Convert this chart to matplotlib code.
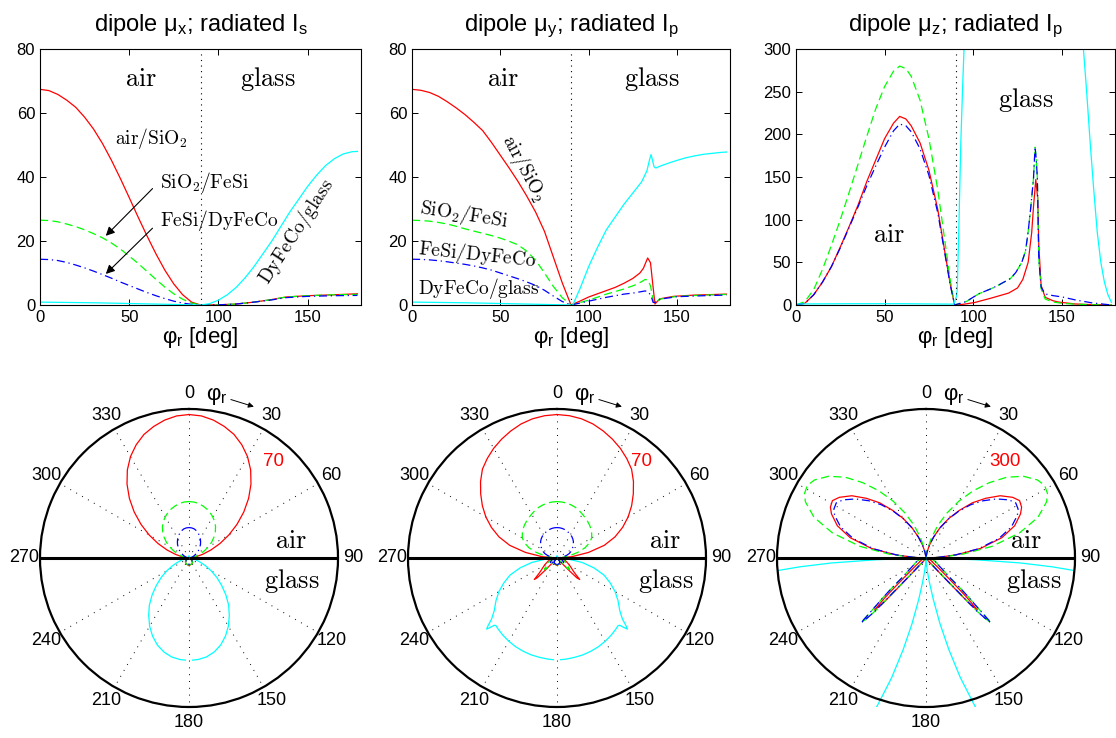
import numpy as np
import matplotlib
matplotlib.use("Agg")
import matplotlib.pyplot as plt
from matplotlib.patches import Rectangle

plt.rcParams['font.family'] = ['Liberation Sans', 'DejaVu Sans']
plt.rcParams['mathtext.fontset'] = 'cm'

# ---------------- data (phi_r in deg) ----------------
# dipole mu_x, radiated I_s
x_red_phi = [0, 5, 10, 15, 20, 25, 30, 35, 40, 45, 50, 55, 60, 65, 70, 75, 80, 85, 90,
             100, 110, 120, 130, 138, 150, 165, 178]
x_red_val = [67.4, 67.0, 65.8, 64.0, 61.8, 58.7, 55, 50.5, 45.3, 39.6, 33.6, 27.5, 21.6, 16, 10.9,
             6.6, 3.2, 0.9, 0,
             0.05, 0.3, 0.9, 1.7, 2.5, 2.9, 3.2, 3.5]
x_grn_phi = [0, 5, 10, 15, 20, 25, 30, 35, 40, 45, 50, 55, 60, 65, 70, 75, 80, 85, 90,
             100, 110, 120, 130, 138, 150, 165, 178]
x_grn_val = [26.5, 26.4, 26, 25.3, 24.5, 23.5, 22.3, 21, 19.4, 17.5, 15.3, 13, 10.5, 8, 5.6,
             3.5, 1.8, 0.6, 0,
             0.05, 0.3, 0.9, 1.7, 2.5, 2.9, 3.2, 3.3]
x_blu_phi = x_grn_phi
x_blu_val = [14.3, 14.2, 13.9, 13.3, 12.5, 11.6, 10.6, 9.5, 8.4, 7.2, 6.1, 5, 3.9, 2.9, 2,
             1.2, 0.6, 0.2, 0,
             0.05, 0.3, 0.9, 1.6, 2.3, 2.7, 2.9, 3.0]
x_cyn_phi = [0, 30, 60, 90, 95, 100, 105, 110, 115, 120, 125, 130, 135, 140, 145, 150,
             155, 160, 165, 170, 175, 178]
x_cyn_val = [0.9, 0.7, 0.35, 0, 0.4, 1.5, 3.2, 5.5, 8.5, 12, 16, 20, 24.5, 29, 33, 37,
             40.5, 43.5, 45.7, 47.2, 47.9, 48]

# dipole mu_y, radiated I_p
y_red_phi = [0, 5, 10, 15, 20, 25, 30, 35, 40, 45, 50, 55, 60, 65, 70, 75, 80, 85, 90,
             95, 100, 105, 110, 115, 120, 125, 129, 131, 133.4, 135, 136, 137, 137.5,
             139, 141, 148, 160, 178]
y_red_val = [67.4, 67.1, 66.4, 65.2, 63.5, 61.6, 59.5, 57.1, 54.5, 50.8, 46.8, 42.8, 38.6, 34,
             29, 23, 15, 7, 0,
             1.2, 2.5, 3.5, 4.5, 5.5, 6.8, 8.3, 10, 11.5, 14.7, 13.2, 8, 2.9, 0.3,
             1.2, 2, 2.7, 3.1, 3.4]
y_grn_phi = [0, 5, 10, 15, 20, 25, 30, 35, 40, 45, 50, 55, 60, 65, 70, 75, 80, 85, 90,
             100, 110, 120, 126, 130, 132, 133.5, 135, 136, 137, 138, 140, 150, 165, 178]
y_grn_val = [26.5, 26.4, 26.2, 25.8, 25.3, 24.6, 23.8, 23.1, 22.4, 21.7, 20.9, 19.9, 18.8, 16.8,
             14, 10, 5.8, 2.3, 0,
             1.5, 3.4, 5, 6.2, 7.3, 8, 7.8, 6, 3, 0.5, 0.8, 1.8, 2.7, 3.1, 3.3]
y_blu_phi = [0, 5, 10, 15, 20, 25, 30, 35, 40, 45, 50, 55, 60, 65, 70, 75, 80, 85, 90,
             100, 110, 120, 126, 130, 132, 134, 135.5, 136.5, 137.5, 140, 150, 165, 178]
y_blu_val = [14.3, 14.25, 14.1, 13.85, 13.5, 13.1, 12.7, 12.2, 11.6, 10.9, 10, 9.1, 8.2, 7.2,
             6.1, 4.6, 2.8, 1.1, 0,
             1.2, 2.4, 3.4, 3.8, 4.2, 4.4, 4, 2.5, 0.8, 0.8, 1.8, 2.6, 2.9, 3.1]
y_cyn_phi = [0, 30, 60, 90, 91, 95, 100, 105, 110, 115, 120, 125, 130, 133, 134.5, 135.3,
             136, 137, 138, 140, 145, 150, 155, 160, 165, 170, 175, 178]
y_cyn_val = [0.9, 0.7, 0.35, 0, 0, 5, 12, 18, 23.5, 27.5, 31.5, 35, 38.5, 42, 45.5, 47,
             45.5, 43.2, 42.8, 43.3, 44.3, 45.2, 46, 46.6, 47.1, 47.4, 47.7, 47.8]

# dipole mu_z, radiated I_p
z_red_phi = [0, 5, 10, 15, 20, 25, 30, 35, 40, 45, 50, 55, 58.5, 62, 65, 70, 75, 80, 84, 87, 89.5,
             95, 101, 110, 120, 125, 128, 131, 133, 134, 135.3, 136.4, 137, 138.3, 140.6,
             145, 148, 157.5, 167, 178]
z_red_val = [0, 2, 12, 27, 45, 68, 92, 117, 145, 170, 195, 213, 221, 218, 210, 190, 158, 112, 62, 25, 0,
             1, 3, 8, 14, 20, 30, 50, 85, 115, 147, 125, 70, 23, 9,
             5, 3.5, 1.2, 0.4, 0]
z_grn_phi = [0, 5, 10, 15, 20, 25, 30, 35, 40, 45, 50, 55, 58.5, 62, 65, 70, 75, 80, 84, 87, 89.5,
             96, 103, 110, 114, 121, 124, 127.4, 129.5, 131, 132.5, 134, 134.9, 135.6, 136.2,
             137, 138.3, 140.6, 145, 150, 157.5, 167, 178]
z_grn_val = [0, 4, 18, 42, 70, 100, 132, 165, 198, 230, 256, 274, 280, 277, 268, 240, 195, 135, 75, 30, 0,
             4, 13, 19, 23, 31, 38, 50, 63, 86, 115, 148, 185, 170, 148,
             54, 19, 7, 3.5, 2, 1, 0.3, 0]
z_blu_phi = z_grn_phi
z_blu_val = [0, 2, 12, 27, 45, 67, 91, 115, 140, 163, 185, 204, 212, 210, 203, 183, 152, 108, 60, 24, 0,
             4, 13, 19, 23, 31, 38, 50, 63, 86, 115, 148, 185, 170, 148,
             54, 21, 13, 11, 9.5, 6, 2.5, 0]
z_cyn_phi = [0, 30, 60, 89, 90.5, 91, 92, 93, 94, 95, 96, 100, 110, 130, 150, 158,
             160, 162, 164, 166, 168, 170, 172, 174, 176, 178]
z_cyn_val = [1.2, 1.5, 1.5, 1, 10, 18, 100, 190, 255, 310, 400, 800, 2000, 3000, 2000, 500,
             380, 305, 250, 190, 135, 85, 50, 27, 12, 3]

RED, GRN, BLU, CYN = '#ff0000', '#00ff00', '#0000ff', '#00ffff'
DASH = (0, (6.5, 3.5))
DASHDOT = (0, (6.5, 3, 1, 3))

panels = [
    dict(title=r'dipole $\mathregular{\mu_x}$; radiated $\mathregular{I_s}$',
         ymax=80, yticks=[0, 20, 40, 60, 80], rmax=70,
         curves=[(x_red_phi, x_red_val, RED, '-'), (x_grn_phi, x_grn_val, GRN, DASH),
                 (x_blu_phi, x_blu_val, BLU, DASHDOT), (x_cyn_phi, x_cyn_val, CYN, '-')],
         air=(56.6, 68.3), glass=(127.9, 68.3),
         pair=(0.841, 0.533), pglass=(0.846, 0.400), rlab=(41.3, 0.86)),
    dict(title=r'dipole $\mathregular{\mu_y}$; radiated $\mathregular{I_p}$',
         ymax=80, yticks=[0, 20, 40, 60, 80], rmax=70,
         curves=[(y_red_phi, y_red_val, RED, '-'), (y_grn_phi, y_grn_val, GRN, DASH),
                 (y_blu_phi, y_blu_val, BLU, DASHDOT), (y_cyn_phi, y_cyn_val, CYN, '-')],
         air=(51.3, 68.3), glass=(135.8, 68.3),
         pair=(0.861, 0.533), pglass=(0.866, 0.400), rlab=(41.3, 0.86)),
    dict(title=r'dipole $\mathregular{\mu_z}$; radiated $\mathregular{I_p}$',
         ymax=300, yticks=[0, 50, 100, 150, 200, 250, 300], rmax=300,
         curves=[(z_red_phi, z_red_val, RED, '-'), (z_grn_phi, z_grn_val, GRN, DASH),
                 (z_blu_phi, z_blu_val, BLU, DASHDOT), (z_cyn_phi, z_cyn_val, CYN, '-')],
         air=(52.6, 74), glass=(129.8, 232),
         pair=(0.836, 0.533), pglass=(0.862, 0.400), rlab=(39.3, 0.835)),
]

W, H = 1116, 738
fig = plt.figure(figsize=(W / 100, H / 100), dpi=100)


def frac(l, t, w, h):
    return [l / W, 1 - (t + h) / H, w / W, h / H]


top_boxes = [(40, 49, 321, 256), (412, 49, 318, 256), (796, 49, 319, 256)]
pol_boxes = [(40, 409, 298, 298), (408, 409, 298, 298), (777, 409, 298, 298)]
cm = lambda s: r'$\mathrm{' + s + '}$'

for i, p in enumerate(panels):
    # ---- cartesian plot
    ax = fig.add_axes(frac(*top_boxes[i]))
    for phi, val, col, ls in p['curves']:
        ax.plot(phi, val, color=col, ls=ls, lw=0.9)
    ax.axvline(90, color='k', ls=(0, (1, 4)), lw=0.8)
    ax.set_xlim(0, 180)
    ax.set_ylim(0, p['ymax'])
    ax.set_xticks([0, 50, 100, 150])
    ax.set_yticks(p['yticks'])
    ax.tick_params(direction='in', top=True, right=True, labelsize=12, length=4, width=0.7)
    for s in ax.spines.values():
        s.set_linewidth(0.8)
    ax.set_title(p['title'], fontsize=17, pad=13)
    ax.set_xlabel(r'$\mathregular{\varphi_r}$ [deg]', fontsize=16, labelpad=0)
    ax.text(*p['air'], cm('air'), fontsize=19, ha='center', va='baseline')
    ax.text(*p['glass'], cm('glass'), fontsize=19, ha='center', va='baseline')

    if i == 0:
        ax.text(62.5, 50.4, cm('air/SiO_2'), fontsize=14, ha='center', va='baseline')
        ax.text(67.4, 36.5, cm('SiO_2/FeSi'), fontsize=14, ha='left', va='baseline')
        ax.text(67.4, 24.6, cm('FeSi/DyFeCo'), fontsize=14, ha='left', va='baseline')
        ax.text(144, 23, cm('DyFeCo/glass'), fontsize=14, ha='center', va='center', rotation=57)
        for tail, head in [((64.2, 37), (35.8, 21)), ((64.2, 24.6), (35.8, 9.1))]:
            ax.annotate('', xy=head, xytext=tail,
                        arrowprops=dict(arrowstyle='-|>', color='k', lw=0.8, mutation_scale=13))
    elif i == 1:
        ax.text(63.6, 42.6, cm('air/SiO_2'), fontsize=14, ha='center', va='center', rotation=-62)
        ax.text(29.6, 28.2, cm('SiO_2/FeSi'), fontsize=14, ha='center', va='center', rotation=-9)
        ax.text(37.2, 15.8, cm('FeSi/DyFeCo'), fontsize=14, ha='center', va='center', rotation=-6)
        ax.text(38, 5.3, cm('DyFeCo/glass'), fontsize=14, ha='center', va='center')

    # ---- polar plot (0 on top, clockwise), mirrored to both sides
    R = p['rmax']
    pa = fig.add_axes(frac(*pol_boxes[i]), projection='polar')
    pa.set_theta_zero_location('N')
    pa.set_theta_direction(-1)
    for phi, val, col, ls in p['curves']:
        th = np.radians(phi)
        for sgn in (1, -1):
            ln, = pa.plot(sgn * th, val, color=col, ls=ls, lw=0.9)
            ln.set_clip_path(Rectangle((0, 0), 1, 1, transform=pa.transAxes))
    pa.plot([np.pi / 2, np.pi / 2], [0, R], color='k', lw=2.2, solid_capstyle='butt')
    pa.plot([3 * np.pi / 2, 3 * np.pi / 2], [0, R], color='k', lw=2.2, solid_capstyle='butt')
    pa.set_ylim(0, R)
    pa.set_yticks([])
    pa.set_xticks(np.radians(np.arange(0, 360, 30)))
    pa.set_xticklabels([])
    pa.xaxis.grid(True, color='k', ls=(0, (1, 6)), lw=0.7)
    pa.yaxis.grid(False)
    pa.spines['polar'].set_linewidth(1.6)
    for a in range(0, 360, 30):
        pa.text(np.radians(a), 1.105 * R, str(a), fontsize=13, ha='center', va='center')
    pa.text(np.radians(9.7), 1.103 * R, r'$\mathregular{\varphi_r}$', fontsize=16,
            ha='center', va='center')
    pa.annotate('', xy=(np.radians(23.2), 1.105 * R), xytext=(np.radians(14.8), 1.10 * R),
                annotation_clip=False,
                arrowprops=dict(arrowstyle='-|>', color='k', lw=0.7, mutation_scale=8,
                                shrinkA=0, shrinkB=0))
    pa.text(np.radians(p['rlab'][0]), p['rlab'][1] * R, str(R), color='r', fontsize=13.5,
            ha='center', va='center')
    pa.text(*p['pair'], cm('air'), transform=pa.transAxes, fontsize=19, ha='center', va='baseline')
    pa.text(*p['pglass'], cm('glass'), transform=pa.transAxes, fontsize=19, ha='center', va='baseline')

fig.savefig('out.png', dpi=100)
